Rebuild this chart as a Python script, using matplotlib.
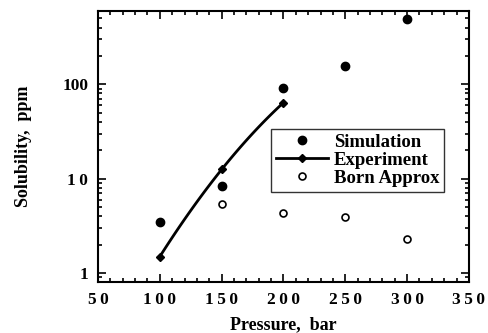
import numpy as np
import matplotlib.pyplot as plt
from matplotlib.ticker import FixedLocator, MultipleLocator, LogLocator, NullFormatter

# values
pressure_sim = [100, 150, 200, 250, 300]
solub_sim = [3.5, 8.3, 92, 155, 495]

pressure_exp = [100, 150, 200]
solub_exp = [1.49, 12.5, 64]

pressure_born = [150, 200, 250, 300]
solub_born = [5.4, 4.35, 3.95, 2.27]

xticks = [50, 100, 150, 200, 250, 300, 350]
yticks = [1, 10, 100]
ytick_labels = ['1', '1\u20090', '100']

plt.rcParams['font.family'] = ['Liberation Serif', 'DejaVu Serif']
plt.rcParams['font.weight'] = 'bold'

fig = plt.figure(figsize=(4.89, 3.33), dpi=100)
ax = fig.add_axes([0.2004, 0.153, 0.7586, 0.814])

# smooth experimental curve: quadratic in log space through the 3 points
coef = np.polyfit(pressure_exp, np.log10(solub_exp), 2)
xs = np.linspace(pressure_exp[0], pressure_exp[-1], 100)
ax.plot(xs, 10 ** np.polyval(coef, xs), color='black', lw=2)

ax.plot(pressure_sim, solub_sim, 'o', color='black', ms=6, label='Simulation')
ax.plot(pressure_exp, solub_exp, 'D', color='black', ms=4, zorder=3)
ax.plot([], [], marker='D', color='black', ms=4, lw=2, label='Experiment')
ax.plot(pressure_born, solub_born, 'o', mfc='white', mec='black', mew=1.2, ms=5,
        label='Born Approx')

ax.set_yscale('log')
ax.set_xlim(50, 350)
ax.set_ylim(0.8, 600)

ax.xaxis.set_major_locator(FixedLocator(xticks))
ax.xaxis.set_minor_locator(MultipleLocator(10))
ax.yaxis.set_major_locator(FixedLocator(yticks))
ax.yaxis.set_minor_locator(LogLocator(base=10, subs=np.arange(2, 10)))
ax.yaxis.set_minor_formatter(NullFormatter())
# old typewriter-ish spacing between digits
ax.set_xticklabels(['\u2009'.join(str(t)) for t in xticks])
ax.set_yticklabels(ytick_labels)

ax.tick_params(which='both', direction='in', top=True, right=True, width=1.2,
               labelsize=12.5)
ax.tick_params(which='major', length=6, pad=7)
ax.tick_params(which='minor', length=3)
for s in ax.spines.values():
    s.set_linewidth(1.5)

ax.set_xlabel('Pressure,  bar', fontsize=13, fontweight='bold', labelpad=6)
ax.set_ylabel('Solubility,  ppm', fontsize=13, fontweight='bold', labelpad=22)

leg = ax.legend(loc='upper left', bbox_to_anchor=(0.466, 0.565), frameon=True,
                fancybox=False, edgecolor='black', fontsize=13.5,
                handlelength=2.8, borderpad=0.25, labelspacing=0.05,
                handletextpad=0.3, borderaxespad=0)
leg.get_frame().set_linewidth(1.0)

fig.savefig('out.png', dpi=100)
